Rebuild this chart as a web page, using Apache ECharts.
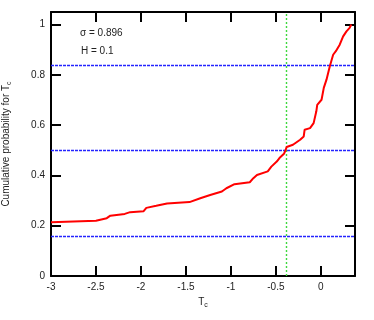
<!DOCTYPE html>
<html>
<head>
<meta charset="utf-8">
<script src="https://cdn.jsdelivr.net/npm/echarts@6/dist/echarts.min.js"></script>
<style>
  html, body { margin: 0; padding: 0; background: #fff; }
  #main { width: 374px; height: 320px; }
</style>
</head>
<body>
<div id="main"></div>
<script>
// cumulative probability curve
var tcValues = [-3, -2.5, -2.38, -2.34, -2.18, -2.12, -1.97, -1.94, -1.83, -1.71, -1.46,
  -1.34, -1.23, -1.10, -1.05, -0.96, -0.79, -0.75, -0.71, -0.59, -0.55, -0.49, -0.46,
  -0.41, -0.39, -0.38, -0.31, -0.23, -0.19, -0.18, -0.12, -0.08, -0.05, -0.04, 0.008,
  0.033, 0.063, 0.10, 0.137, 0.167, 0.21, 0.248, 0.285, 0.32, 0.34];
var probValues = [0.214, 0.22, 0.23, 0.24, 0.247, 0.254, 0.258, 0.271, 0.279, 0.288, 0.294,
  0.309, 0.322, 0.336, 0.349, 0.365, 0.373, 0.389, 0.402, 0.416, 0.435, 0.455, 0.469,
  0.486, 0.502, 0.513, 0.522, 0.542, 0.555, 0.582, 0.588, 0.608, 0.655, 0.681, 0.701,
  0.748, 0.781, 0.834, 0.88, 0.894, 0.92, 0.953, 0.973, 0.987, 1.0];

// reference lines
var hLines = [0.159, 0.5, 0.841];
var vLine = -0.378;

var xTicks = [-3, -2.5, -2, -1.5, -1, -0.5, 0];
var yTicks = [0, 0.2, 0.4, 0.6, 0.8, 1];

var sigmaText = '0.896';
var hText = '0.1';

var curve = [];
for (var i = 0; i < tcValues.length; i++) {
  curve.push([tcValues[i], probValues[i]]);
}

function onTick(list, v) {
  for (var k = 0; k < list.length; k++) {
    if (Math.abs(list[k] - v) < 1e-6) return true;
  }
  return false;
}

var txtColor = '#222';
var fontFam = '"Liberation Sans", Arial, sans-serif';

var myChart = echarts.init(document.getElementById('main'));

var baseX = {
  type: 'value', min: -3, max: 0.38, interval: 0.5,
  axisLine: { show: true, onZero: false, lineStyle: { color: '#000', width: 2 } },
  axisTick: { show: true, inside: true, length: 10, lineStyle: { color: '#000', width: 2 } },
  splitLine: { show: false }
};
var baseY = {
  type: 'value', min: 0, max: 1.05, interval: 0.2,
  axisLine: { show: true, onZero: false, lineStyle: { color: '#000', width: 2 } },
  axisTick: { show: true, inside: true, length: 10, lineStyle: { color: '#000', width: 2 } },
  splitLine: { show: false }
};

var subStyle = { fontSize: 7, verticalAlign: 'bottom', padding: [6, 0, 0, 0], color: txtColor, fontFamily: fontFam };

var blueLine = { color: '#2424ff', type: [3, 1], width: 1.4, opacity: 1 };
var greenLine = { color: '#3ed83e', type: [2, 2], width: 1.4, opacity: 1 };

var option = {
  animation: false,
  backgroundColor: '#fff',
  grid: { left: 51, right: 19, top: 12, bottom: 44, containLabel: false, outerBoundsMode: 'none' },
  xAxis: [
    Object.assign({}, baseX, {
      position: 'bottom',
      name: 'T{sub|c}',
      nameLocation: 'middle',
      nameGap: 20,
      nameTextStyle: { color: txtColor, fontSize: 10, fontFamily: fontFam, rich: { sub: subStyle } },
      axisLabel: {
        color: txtColor, fontSize: 10, fontFamily: fontFam, margin: 6,
        formatter: function (v) { return onTick(xTicks, v) ? String(v) : ''; }
      }
    }),
    Object.assign({}, baseX, { position: 'top', axisLabel: { show: false } })
  ],
  yAxis: [
    Object.assign({}, baseY, {
      position: 'left',
      name: 'Cumulative probability for T{sub|c}',
      nameLocation: 'middle',
      nameGap: 38,
      nameTextStyle: { color: txtColor, fontSize: 10, fontFamily: fontFam, rich: { sub: subStyle } },
      axisLabel: {
        color: txtColor, fontSize: 10, fontFamily: fontFam, margin: 6,
        formatter: function (v) { return onTick(yTicks, v) ? String(v) : ''; }
      }
    }),
    Object.assign({}, baseY, { position: 'right', axisLabel: { show: false } })
  ],
  graphic: [
    { type: 'text', left: 80, top: 28, style: { text: 'σ = ' + sigmaText, fill: txtColor, font: '10px ' + fontFam } },
    { type: 'text', left: 81, top: 46, style: { text: 'H = ' + hText, fill: txtColor, font: '10px ' + fontFam } }
  ],
  series: [
    {
      name: 'levels',
      type: 'line',
      data: [],
      silent: true,
      markLine: {
        symbol: 'none', silent: true, label: { show: false },
        emphasis: { disabled: true },
        lineStyle: blueLine,
        data: hLines.map(function (v) { return { yAxis: v, lineStyle: blueLine }; })
      }
    },
    {
      name: 'tcLine',
      type: 'line',
      data: [],
      silent: true,
      markLine: {
        symbol: 'none', silent: true, label: { show: false },
        emphasis: { disabled: true },
        lineStyle: greenLine,
        data: [{ xAxis: vLine, lineStyle: greenLine }]
      }
    },
    {
      name: 'curve',
      type: 'line',
      data: curve,
      showSymbol: false,
      symbol: 'none',
      lineStyle: { color: '#ff0000', width: 2 },
      z: 5
    }
  ]
};

myChart.setOption(option);
</script>
</body>
</html>
